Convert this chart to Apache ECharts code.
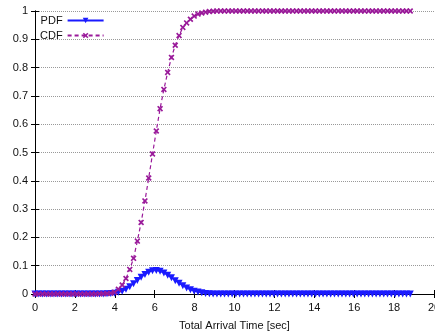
<!DOCTYPE html>
<html>
<head>
<meta charset="utf-8">
<script src="https://cdn.jsdelivr.net/npm/echarts@6/dist/echarts.min.js"></script>
<style>
  html, body { margin: 0; padding: 0; background: #fff; }
  #chart { width: 435px; height: 336px; }
</style>
</head>
<body>
<div id="chart"></div>
<script>
// sample times (sec)
var times = [
  0, 0.19, 0.38, 0.57, 0.76, 0.95, 1.14, 1.33, 1.52, 1.71,
  1.9, 2.09, 2.28, 2.47, 2.66, 2.85, 3.04, 3.23, 3.42, 3.61,
  3.8, 3.99, 4.18, 4.37, 4.56, 4.75, 4.94, 5.13, 5.32, 5.51,
  5.7, 5.89, 6.08, 6.27, 6.46, 6.65, 6.84, 7.03, 7.22, 7.41,
  7.6, 7.79, 7.98, 8.17, 8.36, 8.55, 8.74, 8.93, 9.12, 9.31,
  9.5, 9.69, 9.88, 10.07, 10.26, 10.45, 10.64, 10.83, 11.02, 11.21,
  11.4, 11.59, 11.78, 11.97, 12.16, 12.35, 12.54, 12.73, 12.92, 13.11,
  13.3, 13.49, 13.68, 13.87, 14.06, 14.25, 14.44, 14.63, 14.82, 15.01,
  15.2, 15.39, 15.58, 15.77, 15.96, 16.15, 16.34, 16.53, 16.72, 16.91,
  17.1, 17.29, 17.48, 17.67, 17.86, 18.05, 18.24, 18.43, 18.62, 18.81
];

var pdfValues = [
  0, 0, 0, 0, 0, 0, 0, 0, 0, 0,
  0, 0, 0, 0, 0, 0, 0, 0, 0, 0.001,
  0.002, 0.003, 0.006, 0.010, 0.017, 0.026, 0.036, 0.048, 0.059, 0.069,
  0.077, 0.082, 0.083, 0.080, 0.074, 0.066, 0.057, 0.047, 0.038, 0.029,
  0.021, 0.015, 0.010, 0.007, 0.004, 0.002, 0.001, 0, 0, 0,
  0, 0, 0, 0, 0, 0, 0, 0, 0, 0,
  0, 0, 0, 0, 0, 0, 0, 0, 0, 0,
  0, 0, 0, 0, 0, 0, 0, 0, 0, 0,
  0, 0, 0, 0, 0, 0, 0, 0, 0, 0,
  0, 0, 0, 0, 0, 0, 0, 0, 0, 0
];

var cdfValues = [
  0, 0, 0, 0, 0, 0, 0, 0, 0, 0,
  0, 0, 0, 0, 0, 0, 0, 0.001, 0.001, 0.002,
  0.003, 0.006, 0.017, 0.032, 0.055, 0.087, 0.126, 0.187, 0.253, 0.329,
  0.41, 0.495, 0.576, 0.655, 0.723, 0.783, 0.836, 0.879, 0.913, 0.942,
  0.958, 0.971, 0.982, 0.989, 0.993, 0.996, 0.998, 0.999, 1, 1,
  1, 1, 1, 1, 1, 1, 1, 1, 1, 1,
  1, 1, 1, 1, 1, 1, 1, 1, 1, 1,
  1, 1, 1, 1, 1, 1, 1, 1, 1, 1,
  1, 1, 1, 1, 1, 1, 1, 1, 1, 1,
  1, 1, 1, 1, 1, 1, 1, 1, 1, 1
];

var legendNames = ["PDF", "CDF"];

function pairs(xs, ys) {
  var out = [];
  for (var i = 0; i < xs.length; i++) out.push([xs[i], ys[i]]);
  return out;
}

var font = "Liberation Sans, Arial, sans-serif";
// gnuplot style "x" point, drawn thick
var crossSymbol = "path://M0,2L2,0L5,3L8,0L10,2L7,5L10,8L8,10L5,7L2,10L0,8L3,5Z";

var myChart = echarts.init(document.getElementById("chart"));
var option = {
  animation: false,
  backgroundColor: "#fff",
  grid: {
    left: 35,
    right: 1,
    top: 11,
    bottom: 42,
    outerBoundsMode: "none"
  },
  legend: {
    data: legendNames,
    orient: "vertical",
    left: 40,
    top: 15,
    align: "right",
    itemWidth: 36,
    itemHeight: 7,
    itemGap: 4,
    padding: 0,
    textStyle: { fontSize: 11, color: "#111", fontFamily: font, width: 26 }
  },
  xAxis: [
    {
      type: "value",
      min: 0,
      max: 20,
      interval: 2,
      name: "Total Arrival Time [sec]",
      nameLocation: "middle",
      nameGap: 26,
      nameTextStyle: { fontSize: 11, color: "#111", fontFamily: font },
      axisLine: { lineStyle: { color: "#000", width: 1 } },
      axisTick: { inside: true, length: 4, lineStyle: { color: "#000" } },
      axisLabel: { fontSize: 11, color: "#111", fontFamily: font, margin: 8 },
      splitLine: { show: false }
    },
    {
      // mirrored top border with ticks
      type: "value",
      position: "top",
      min: 0,
      max: 20,
      interval: 2,
      axisLine: { show: true, lineStyle: { color: "#000", width: 1 } },
      axisTick: { inside: true, length: 4, lineStyle: { color: "#000" } },
      axisLabel: { show: false },
      splitLine: { show: false }
    }
  ],
  yAxis: [
    {
      type: "value",
      min: 0,
      max: 1,
      interval: 0.1,
      axisLine: { show: true, lineStyle: { color: "#000", width: 1 } },
      axisTick: { show: true, inside: true, length: 4, lineStyle: { color: "#000" } },
      axisLabel: { fontSize: 11, color: "#111", fontFamily: font, margin: 7 },
      splitLine: {
        show: true,
        lineStyle: { color: "#999", type: "dotted", width: 1 }
      }
    },
    {
      type: "value",
      position: "right",
      min: 0,
      max: 1,
      interval: 0.1,
      axisLine: { show: true, lineStyle: { color: "#000", width: 1 } },
      axisTick: { show: true, inside: true, length: 4, lineStyle: { color: "#000" } },
      axisLabel: { show: false },
      splitLine: { show: false }
    }
  ],
  series: [
    {
      name: legendNames[0],
      type: "line",
      xAxisIndex: 0,
      yAxisIndex: 0,
      data: pairs(times, pdfValues),
      symbol: "triangle",
      symbolRotate: 180,
      symbolSize: 7,
      showAllSymbol: true,
      itemStyle: { color: "#1a1aff" },
      lineStyle: { color: "#1a1aff", width: 1.2 },
      z: 3
    },
    {
      name: legendNames[1],
      type: "line",
      xAxisIndex: 0,
      yAxisIndex: 0,
      data: pairs(times, cdfValues),
      symbol: crossSymbol,
      symbolSize: 6,
      showAllSymbol: true,
      itemStyle: { color: "#9a1a9a" },
      lineStyle: { color: "#9a1a9a", width: 1.2, type: [4, 3] },
      z: 4
    }
  ]
};
myChart.setOption(option);
</script>
</body>
</html>
